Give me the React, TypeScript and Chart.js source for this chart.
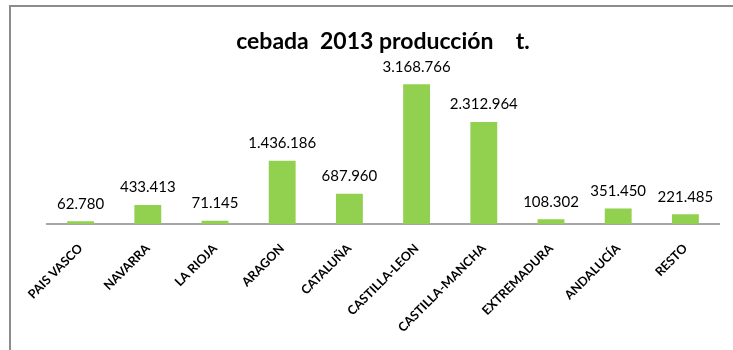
import React, { useEffect, useRef } from "react";
import { Chart, registerables } from "chart.js";

Chart.register(...registerables);

const categories = [
  "PAIS VASCO",
  "NAVARRA",
  "LA RIOJA",
  "ARAGON",
  "CATALUÑA",
  "CASTILLA-LEON",
  "CASTILLA-MANCHA",
  "EXTREMADURA",
  "ANDALUCÍA",
  "RESTO",
];
const production = [62780, 433413, 71145, 1436186, 687960, 3168766, 2312964, 108302, 351450, 221485];
const titleText = "cebada  2013 producción    t.";
const yMax = 3500000;

const FONT = "Lato, 'Open Sans', sans-serif";

function fmt(v: number): string {
  return String(Math.round(v)).replace(/\B(?=(\d{3})+(?!\d))/g, ".");
}

const valueLabels = {
  id: "valueLabels",
  afterDatasetsDraw(chart: any) {
    const ctx = chart.ctx;
    const meta = chart.getDatasetMeta(0);
    const data = chart.data.datasets[0].data as number[];
    ctx.save();
    ctx.font = `15px ${FONT}`;
    ctx.fillStyle = "#000000";
    ctx.textAlign = "center";
    ctx.textBaseline = "bottom";
    meta.data.forEach((el: any, i: number) => {
      ctx.fillText(fmt(data[i]), el.x, el.y - 10);
    });
    ctx.restore();
  },
};

export default function App() {
  const ref = useRef<HTMLCanvasElement | null>(null);

  useEffect(() => {
    document.body.style.margin = "0";
    if (!ref.current) return;
    const chart = new Chart(ref.current, {
      type: "bar",
      data: {
        labels: categories,
        datasets: [
          {
            data: production,
            backgroundColor: "#92D050",
            borderWidth: 0,
            barPercentage: 0.4,
            categoryPercentage: 1,
          },
        ],
      },
      options: {
        animation: false,
        responsive: false,
        layout: { padding: { left: 47, right: 14, top: 28, bottom: 0 } },
        plugins: {
          legend: { display: false },
          tooltip: { enabled: false },
          title: {
            display: true,
            text: titleText,
            color: "#000000",
            font: { family: FONT, size: 23, weight: "bold", lineHeight: 1.2 },
            padding: { top: 0, bottom: 14 },
          },
        },
        scales: {
          x: {
            grid: { display: false, drawTicks: false },
            border: { display: true, color: "#A6A6A6", width: 2 },
            ticks: {
              color: "#000000",
              font: { family: FONT, size: 12.5, weight: "bold" },
              minRotation: 45,
              maxRotation: 45,
              padding: 17,
              autoSkip: false,
            },
            afterFit: (scale: any) => {
              scale.height = 126;
            },
          },
          y: {
            display: false,
            min: 0,
            max: yMax,
          },
        },
      },
      plugins: [valueLabels],
    });
    return () => chart.destroy();
  }, []);

  return (
    <div style={{ position: "relative", width: 733, height: 350, background: "#ffffff", overflow: "hidden" }}>
      <canvas ref={ref} width={733} height={350} style={{ display: "block" }} />
      <div
        style={{
          position: "absolute",
          left: 9,
          top: 5,
          width: 740,
          height: 360,
          borderTop: "2px solid #8C8C8C",
          borderLeft: "2px solid #8C8C8C",
          pointerEvents: "none",
        }}
      />
    </div>
  );
}
